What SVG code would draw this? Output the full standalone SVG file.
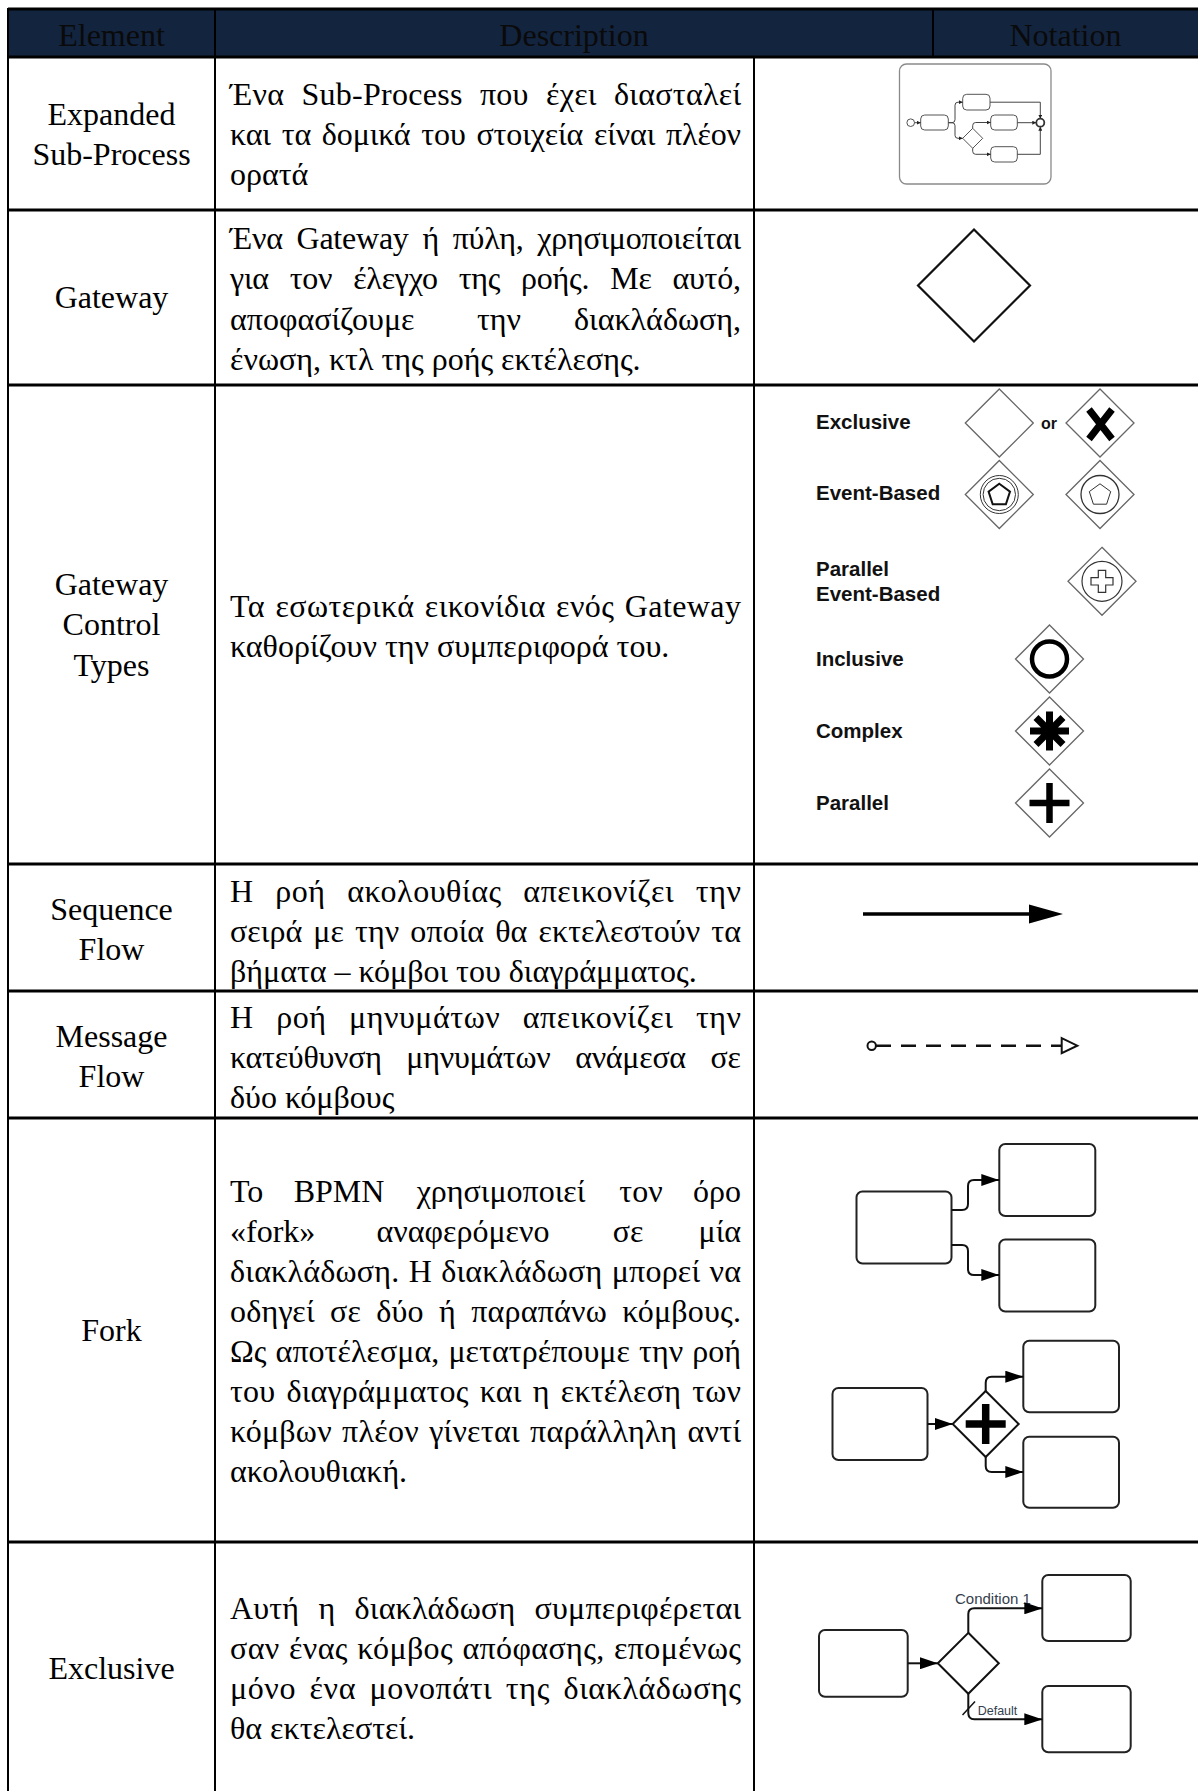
<svg xmlns="http://www.w3.org/2000/svg" width="1198" height="1791" viewBox="0 0 1198 1791">
  <defs>
    <style>
      .hdr { font-family: "Liberation Serif", "Times New Roman", serif; font-size: 32px; fill: #0a0a0a; text-anchor: middle; }
      .el { font-family: "Liberation Serif", "Times New Roman", serif; font-size: 32px; fill: #000; text-anchor: middle; }
      .ds { font-family: "Liberation Serif", "Times New Roman", serif; font-size: 32px; fill: #000; }
      .end { text-anchor: end; }
      .mid { text-anchor: middle; }
      .gl { font-family: "Liberation Sans", Arial, sans-serif; font-size: 20.5px; font-weight: bold; fill: #111; }
      .hline { stroke: #000; stroke-width: 3; }
      .vline { stroke: #000; stroke-width: 2; }
      .gw { fill: #fff; stroke: #666; stroke-width: 1.3; }
      .task { fill: #fff; stroke: #222; stroke-width: 2; }
      .flow { fill: none; stroke: #111; stroke-width: 2; }
      .mini { fill: #fff; stroke: #555; stroke-width: 1; }
      .miniflow { fill: none; stroke: #444; stroke-width: 1; }
      .lbl { font-family: "Liberation Sans", Arial, sans-serif; fill: #34404c; }
    </style>
    <marker id="arr" viewBox="0 0 18 12" refX="18" refY="6" markerWidth="18" markerHeight="12" markerUnits="userSpaceOnUse" orient="auto">
      <path d="M0,0 L18,6 L0,12 z" fill="#000"/>
    </marker>
    <marker id="arrMini" viewBox="0 0 4 4" refX="4" refY="2" markerWidth="4" markerHeight="4" markerUnits="userSpaceOnUse" orient="auto">
      <path d="M0,0 L4,2 L0,4 z" fill="#222"/>
    </marker>
  </defs>

  <rect width="1198" height="1791" fill="#fff"/>

  <!-- header band -->
  <rect x="8" y="9" width="1190" height="48" fill="#13243f"/>
  <g id="header">
    <text class="hdr" x="111.5" y="46">Element</text>
    <text class="hdr" x="574" y="46">Description</text>
    <text class="hdr" x="1065.5" y="46">Notation</text>
  </g>

  <!-- table grid -->
  <g id="grid">
    <line class="hline" x1="8" y1="9" x2="1198" y2="9"/>
    <line class="hline" x1="8" y1="57" x2="1198" y2="57"/>
    <line class="hline" x1="8" y1="210" x2="1198" y2="210"/>
    <line class="hline" x1="8" y1="385" x2="1198" y2="385"/>
    <line class="hline" x1="8" y1="864" x2="1198" y2="864"/>
    <line class="hline" x1="8" y1="991" x2="1198" y2="991"/>
    <line class="hline" x1="8" y1="1118" x2="1198" y2="1118"/>
    <line class="hline" x1="8" y1="1542" x2="1198" y2="1542"/>
    <line class="vline" x1="8" y1="8" x2="8" y2="1791"/>
    <line class="vline" x1="215" y1="9" x2="215" y2="1791"/>
    <line class="vline" x1="754" y1="57" x2="754" y2="1791"/>
    <line class="vline" x1="933" y1="9" x2="933" y2="57"/>
  </g>

  <!-- element names -->
  <g id="elements">
    <text class="el" x="111.5" y="125">Expanded</text>
    <text class="el" x="111.5" y="165">Sub-Process</text>
    <text class="el" x="111.5" y="308">Gateway</text>
    <text class="el" x="111.5" y="595">Gateway</text>
    <text class="el" x="111.5" y="635">Control</text>
    <text class="el" x="111.5" y="676">Types</text>
    <text class="el" x="111.5" y="920">Sequence</text>
    <text class="el" x="111.5" y="960">Flow</text>
    <text class="el" x="111.5" y="1047">Message</text>
    <text class="el" x="111.5" y="1087">Flow</text>
    <text class="el" x="111.5" y="1341">Fork</text>
    <text class="el" x="111.5" y="1679">Exclusive</text>
  </g>

  <!-- descriptions: justified lines widen the word gaps, textLength trims the rest -->
  <g id="descriptions">
    <text class="ds" x="230" y="105" textLength="511" lengthAdjust="spacing" style="word-spacing:9px">Ένα Sub-Process που έχει διασταλεί</text>
    <text class="ds" x="230" y="145" textLength="511" lengthAdjust="spacing" style="word-spacing:3px">και τα δομικά του στοιχεία είναι πλέον</text>
    <text class="ds" x="230" y="185">ορατά</text>

    <text class="ds" x="230" y="249" textLength="511" lengthAdjust="spacing" style="word-spacing:6px">Ένα Gateway ή πύλη, χρησιμοποιείται</text>
    <text class="ds" x="230" y="289" textLength="511" lengthAdjust="spacing" style="word-spacing:13px">για τον έλεγχο της ροής. Με αυτό,</text>
    <text class="ds" x="230" y="330">αποφασίζουμε</text>
    <text class="ds mid" x="499" y="330">την</text>
    <text class="ds end" x="741" y="330">διακλάδωση,</text>
    <text class="ds" x="230" y="370">ένωση, κτλ της ροής εκτέλεσης.</text>

    <text class="ds" x="230" y="617" textLength="511" lengthAdjust="spacing" style="word-spacing:2px">Τα εσωτερικά εικονίδια ενός Gateway</text>
    <text class="ds" x="230" y="657">καθορίζουν την συμπεριφορά του.</text>

    <text class="ds" x="230" y="902" textLength="511" lengthAdjust="spacing" style="word-spacing:13px">Η ροή ακολουθίας απεικονίζει την</text>
    <text class="ds" x="230" y="942" textLength="511" lengthAdjust="spacing" style="word-spacing:3px">σειρά με την οποία θα εκτελεστούν τα</text>
    <text class="ds" x="230" y="982">βήματα – κόμβοι του διαγράμματος.</text>

    <text class="ds" x="230" y="1028" textLength="511" lengthAdjust="spacing" style="word-spacing:14px">Η ροή μηνυμάτων απεικονίζει την</text>
    <text class="ds" x="230" y="1068" textLength="511" lengthAdjust="spacing" style="word-spacing:17px">κατεύθυνση μηνυμάτων ανάμεσα σε</text>
    <text class="ds" x="230" y="1108">δύο κόμβους</text>

    <text class="ds" x="230" y="1202">Το</text>
    <text class="ds mid" x="339" y="1202">BPMN</text>
    <text class="ds mid" x="501" y="1202">χρησιμοποιεί</text>
    <text class="ds mid" x="641" y="1202">τον</text>
    <text class="ds end" x="741" y="1202">όρο</text>
    <text class="ds" x="230" y="1242">«fork»</text>
    <text class="ds mid" x="463" y="1242">αναφερόμενο</text>
    <text class="ds mid" x="628" y="1242">σε</text>
    <text class="ds end" x="741" y="1242">μία</text>
    <text class="ds" x="230" y="1282" textLength="511" lengthAdjust="spacing" style="word-spacing:1px">διακλάδωση. Η διακλάδωση μπορεί να</text>
    <text class="ds" x="230" y="1322" textLength="511" lengthAdjust="spacing" style="word-spacing:7px">οδηγεί σε δύο ή παραπάνω κόμβους.</text>
    <text class="ds" x="230" y="1362" textLength="511" lengthAdjust="spacing" style="word-spacing:1px">Ως αποτέλεσμα, μετατρέπουμε την ροή</text>
    <text class="ds" x="230" y="1402" textLength="511" lengthAdjust="spacing" style="word-spacing:3px">του διαγράμματος και η εκτέλεση των</text>
    <text class="ds" x="230" y="1442" textLength="511" lengthAdjust="spacing" style="word-spacing:2px">κόμβων πλέον γίνεται παράλληλη αντί</text>
    <text class="ds" x="230" y="1482">ακολουθιακή.</text>

    <text class="ds" x="230" y="1619" textLength="511" lengthAdjust="spacing" style="word-spacing:11px">Αυτή η διακλάδωση συμπεριφέρεται</text>
    <text class="ds" x="230" y="1659" textLength="511" lengthAdjust="spacing" style="word-spacing:1px">σαν ένας κόμβος απόφασης, επομένως</text>
    <text class="ds" x="230" y="1699" textLength="511" lengthAdjust="spacing" style="word-spacing:5px">μόνο ένα μονοπάτι της διακλάδωσης</text>
    <text class="ds" x="230" y="1739">θα εκτελεστεί.</text>
  </g>

  <!-- expanded sub-process thumbnail -->
  <g id="expanded-subprocess">
    <rect x="899.5" y="64" width="151.5" height="120" rx="7" fill="#fff" stroke="#8a8a8a" stroke-width="1.3"/>
    <circle class="mini" cx="910.7" cy="122.7" r="3.8"/>
    <rect class="mini" x="920.7" y="115" width="27.6" height="15" rx="4"/>
    <rect class="mini" x="962.7" y="94.3" width="27.3" height="15.7" rx="4"/>
    <rect class="mini" x="990.7" y="115" width="26.6" height="15" rx="4"/>
    <rect class="mini" x="990.7" y="146.7" width="26.6" height="15.3" rx="4"/>
    <polygon class="mini" points="972.7,128.3 982.7,138.3 972.7,148.3 962.7,138.3"/>
    <circle cx="1040.3" cy="122.7" r="4" fill="#fff" stroke="#333" stroke-width="1.8"/>
    <g class="miniflow">
      <path d="M914.5,122.7 H920.7" marker-end="url(#arrMini)"/>
      <path d="M948.3,122.7 H952 Q955,122.7 955,119.7 V105.2 Q955,102.2 958,102.2 H962.7" marker-end="url(#arrMini)"/>
      <path d="M948.3,122.7 H952 Q955,122.7 955,125.7 V135.3 Q955,138.3 958,138.3 H962.7" marker-end="url(#arrMini)"/>
      <path d="M972.7,128.3 V125.5 Q972.7,122.5 975.7,122.5 H990.7" marker-end="url(#arrMini)"/>
      <path d="M972.7,148.3 V151.3 Q972.7,154.3 975.7,154.3 H990.7" marker-end="url(#arrMini)"/>
      <path d="M990,102.2 H1040.3 V118.7" marker-end="url(#arrMini)"/>
      <path d="M1017.3,122.7 H1036.3" marker-end="url(#arrMini)"/>
      <path d="M1017.3,154.3 H1040.3 V126.7" marker-end="url(#arrMini)"/>
    </g>
  </g>

  <!-- plain gateway -->
  <g id="gateway">
    <polygon points="974,229.5 1030,285.5 974,341.5 918,285.5" fill="#fff" stroke="#111" stroke-width="2.2"/>
  </g>

  <!-- gateway control types -->
  <g id="gateway-types">
    <text class="gl" x="816" y="429">Exclusive</text>
    <polygon class="gw" points="999.3,389 1033.3,423 999.3,457 965.3,423"/>
    <text class="gl" x="1041" y="429" style="font-size:16px">or</text>
    <polygon class="gw" points="1100,389 1134,423 1100,457 1066,423"/>
    <path d="M1089,409.5 L1112,439 M1112,409.5 L1089,439" stroke="#000" stroke-width="7"/>

    <text class="gl" x="816" y="500">Event-Based</text>
    <polygon class="gw" points="999.3,460.5 1033.3,494.5 999.3,528.5 965.3,494.5"/>
    <circle cx="999.3" cy="494.5" r="19" fill="none" stroke="#333" stroke-width="1"/>
    <circle cx="999.3" cy="494.5" r="16.2" fill="none" stroke="#333" stroke-width="1"/>
    <polygon points="999.3,483.8 1010,491.6 1005.9,504.2 992.7,504.2 988.6,491.6" fill="none" stroke="#111" stroke-width="2"/>
    <polygon class="gw" points="1100,460.5 1134,494.5 1100,528.5 1066,494.5"/>
    <circle cx="1100" cy="494.5" r="19" fill="none" stroke="#333" stroke-width="1.3"/>
    <polygon points="1100,483.8 1110.7,491.6 1106.6,504.2 1093.4,504.2 1089.3,491.6" fill="none" stroke="#333" stroke-width="1"/>

    <text class="gl" x="816" y="576">Parallel</text>
    <text class="gl" x="816" y="601">Event-Based</text>
    <polygon class="gw" points="1102,547.3 1136,581.3 1102,615.3 1068,581.3"/>
    <circle cx="1102" cy="581.3" r="20" fill="none" stroke="#333" stroke-width="1.2"/>
    <path d="M1098.3,570.3 h7.4 v7.3 h7.3 v7.4 h-7.3 v7.3 h-7.4 v-7.3 h-7.3 v-7.4 h7.3 z" fill="#fff" stroke="#333" stroke-width="1.2"/>

    <text class="gl" x="816" y="666">Inclusive</text>
    <polygon class="gw" points="1049.5,625 1083.5,659 1049.5,693 1015.5,659"/>
    <circle cx="1049.5" cy="659" r="17.5" fill="none" stroke="#000" stroke-width="4.5"/>

    <text class="gl" x="816" y="738">Complex</text>
    <polygon class="gw" points="1049.5,697 1083.5,731 1049.5,765 1015.5,731"/>
    <path d="M1030,731 H1069 M1049.5,711.5 V750.5 M1036,717.5 L1063,744.5 M1063,717.5 L1036,744.5" stroke="#000" stroke-width="7"/>

    <text class="gl" x="816" y="810">Parallel</text>
    <polygon class="gw" points="1049.5,769 1083.5,803 1049.5,837 1015.5,803"/>
    <path d="M1029.5,803 H1069.5 M1049.5,783 V823" stroke="#000" stroke-width="6.5"/>
  </g>

  <!-- sequence flow -->
  <g id="sequence-flow">
    <line x1="863" y1="914" x2="1031" y2="914" stroke="#000" stroke-width="3.4"/>
    <polygon points="1029,904.5 1063,914 1029,923.5" fill="#000"/>
  </g>

  <!-- message flow -->
  <g id="message-flow">
    <line x1="876" y1="1045.7" x2="1061.7" y2="1045.7" stroke="#111" stroke-width="2.6" stroke-dasharray="15 10"/>
    <circle cx="871.7" cy="1045.7" r="4.2" fill="#fff" stroke="#111" stroke-width="2"/>
    <polygon points="1061.7,1038.2 1077.3,1045.7 1061.7,1053.2" fill="#fff" stroke="#111" stroke-width="2"/>
  </g>

  <!-- fork: implicit split -->
  <g id="fork-implicit">
    <rect class="task" x="856.5" y="1191.5" width="95" height="72" rx="6"/>
    <rect class="task" x="999.3" y="1144" width="96" height="72" rx="6"/>
    <rect class="task" x="999.3" y="1239.5" width="96" height="72" rx="6"/>
  </g>
  <!-- fork: parallel gateway split -->
  <g id="fork-parallel">
    <rect class="task" x="832.5" y="1388" width="95" height="72" rx="6"/>
    <polygon points="985.7,1391 1018.7,1424 985.7,1457 952.7,1424" fill="#fff" stroke="#111" stroke-width="2"/>
    <path d="M965.7,1424 H1005.7 M985.7,1404 V1444" stroke="#000" stroke-width="7.5"/>
    <rect class="task" x="1023.3" y="1340.7" width="95.7" height="71.6" rx="6"/>
    <rect class="task" x="1023.3" y="1436.7" width="95.7" height="71" rx="6"/>
  </g>

  <!-- exclusive split -->
  <g id="exclusive-split">
    <rect class="task" x="819" y="1630" width="88.7" height="66.7" rx="6"/>
    <polygon points="968.3,1632.8 998.8,1663.3 968.3,1693.8 937.8,1663.3" fill="#fff" stroke="#111" stroke-width="2"/>
    <rect class="task" x="1042.3" y="1575" width="88.4" height="66" rx="6"/>
    <rect class="task" x="1042.3" y="1686" width="88.4" height="66.3" rx="6"/>
    <text class="lbl" x="955" y="1604" style="font-size:15px">Condition 1</text>
    <text class="lbl" x="977.7" y="1715" style="font-size:12.5px">Default</text>
  </g>

  <!-- connectors -->
  <g id="connectors" class="flow">
    <path d="M951.5,1210 H962 Q968,1210 968,1204 V1186 Q968,1180 974,1180 H999.3" marker-end="url(#arr)"/>
    <path d="M951.5,1245 H962 Q968,1245 968,1251 V1269 Q968,1275 974,1275 H999.3" marker-end="url(#arr)"/>

    <path d="M927.5,1424 H952.7" marker-end="url(#arr)"/>
    <path d="M985.7,1391 V1383 Q985.7,1376.7 991.7,1376.7 H1023.3" marker-end="url(#arr)"/>
    <path d="M985.7,1457 V1466 Q985.7,1472 991.7,1472 H1023.3" marker-end="url(#arr)"/>

    <path d="M907.7,1663.3 H937.8" marker-end="url(#arr)"/>
    <path d="M968.3,1632.8 V1614 Q968.3,1608.3 974.3,1608.3 H1042.3" marker-end="url(#arr)"/>
    <path d="M968.3,1693.8 V1713 Q968.3,1719.3 974.3,1719.3 H1042.3" marker-end="url(#arr)"/>
    <path d="M962.5,1715 L975,1701.5" stroke-width="1.5"/>
  </g>
</svg>
